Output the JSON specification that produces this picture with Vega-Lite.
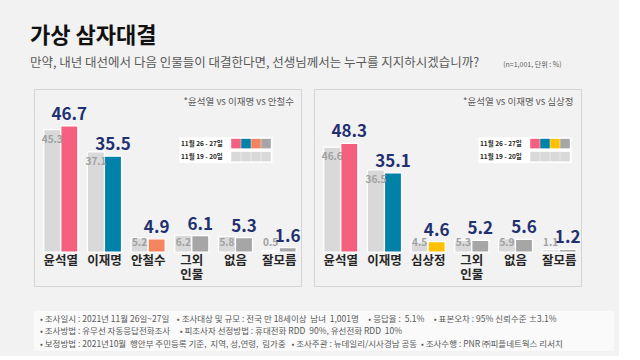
{
  "$schema": "https://vega.github.io/schema/vega-lite/v6.json",
  "background": "#f2f2f2",
  "padding": {"left": 27, "top": 25, "right": 5, "bottom": 5},
  "title": {
    "text": "가상 삼자대결",
    "subtitle": "만약, 내년 대선에서 다음 인물들이 대결한다면, 선생님께서는 누구를 지지하시겠습니까?",
    "anchor": "start",
    "dx": 3,
    "offset": -10,
    "fontSize": 22,
    "fontWeight": "bold",
    "color": "#111111",
    "subtitleFontSize": 12.5,
    "subtitleColor": "#595959",
    "subtitlePadding": 9,
    "font": "Noto Sans CJK KR",
    "subtitleFont": "Noto Sans CJK KR"
  },
  "datasets": {
    "bars": [
      {"panel": "A", "cand": "윤석열", "period": "11월 19 - 20일", "value": 45.3},
      {"panel": "A", "cand": "윤석열", "period": "11월 26 - 27일", "value": 46.7},
      {"panel": "A", "cand": "이재명", "period": "11월 19 - 20일", "value": 37.1},
      {"panel": "A", "cand": "이재명", "period": "11월 26 - 27일", "value": 35.5},
      {"panel": "A", "cand": "안철수", "period": "11월 19 - 20일", "value": 5.2},
      {"panel": "A", "cand": "안철수", "period": "11월 26 - 27일", "value": 4.9},
      {"panel": "A", "cand": "그외\n인물", "period": "11월 19 - 20일", "value": 6.2},
      {"panel": "A", "cand": "그외\n인물", "period": "11월 26 - 27일", "value": 6.1},
      {"panel": "A", "cand": "없음", "period": "11월 19 - 20일", "value": 5.8},
      {"panel": "A", "cand": "없음", "period": "11월 26 - 27일", "value": 5.3},
      {"panel": "A", "cand": "잘모름", "period": "11월 19 - 20일", "value": 0.5},
      {"panel": "A", "cand": "잘모름", "period": "11월 26 - 27일", "value": 1.6},
      {"panel": "B", "cand": "윤석열", "period": "11월 19 - 20일", "value": 46.6},
      {"panel": "B", "cand": "윤석열", "period": "11월 26 - 27일", "value": 48.3},
      {"panel": "B", "cand": "이재명", "period": "11월 19 - 20일", "value": 36.5},
      {"panel": "B", "cand": "이재명", "period": "11월 26 - 27일", "value": 35.1},
      {"panel": "B", "cand": "심상정", "period": "11월 19 - 20일", "value": 4.5},
      {"panel": "B", "cand": "심상정", "period": "11월 26 - 27일", "value": 4.6},
      {"panel": "B", "cand": "그외\n인물", "period": "11월 19 - 20일", "value": 5.3},
      {"panel": "B", "cand": "그외\n인물", "period": "11월 26 - 27일", "value": 5.2},
      {"panel": "B", "cand": "없음", "period": "11월 19 - 20일", "value": 5.9},
      {"panel": "B", "cand": "없음", "period": "11월 26 - 27일", "value": 5.6},
      {"panel": "B", "cand": "잘모름", "period": "11월 19 - 20일", "value": 1.1},
      {"panel": "B", "cand": "잘모름", "period": "11월 26 - 27일", "value": 1.2}
    ],
    "notes": [
      {"line": 1, "text": "• 조사일시 : 2021년 11월 26일~27일\u00a0\u00a0\u00a0\u00a0• 조사대상 및 규모 : 전국 만 18세이상\u00a0\u00a0남녀\u00a0\u00a01,001명\u00a0\u00a0\u00a0\u00a0\u00a0• 응답율 :\u00a0\u00a05.1%\u00a0\u00a0\u00a0\u00a0\u00a0• 표본오차 : 95% 신뢰수준 ±3.1%"},
      {"line": 2, "text": "• 조사방법 : 유무선 자동응답전화조사\u00a0\u00a0\u00a0\u00a0\u00a0• 피조사자 선정방법 : 휴대전화 RDD\u00a0\u00a090%, 유선전화 RDD\u00a0\u00a010%"},
      {"line": 3, "text": "• 보정방법 : 2021년10월\u00a0\u00a0행안부 주민등록 기준,\u00a0\u00a0지역, 성,연령,\u00a0\u00a0림가중\u00a0\u00a0\u00a0• 조사주관 : 뉴데일리/시사경남 공동\u00a0\u00a0• 조사수행 : PNR ㈜피플네트웍스 리서치"}
    ]
  },
  "config": {
    "font": "Noto Sans CJK KR",
    "view": {"stroke": "#d4d4d4"},
    "axisY": {"labels": false, "domain": false, "ticks": true, "tickSize": 6, "tickColor": "#f2f2f2", "grid": false, "title": null, "tickCount": 2}
  },
  "spacing": 24,
  "resolve": {"scale": {"color": "independent", "x": "independent", "y": "independent"}, "legend": {"color": "independent"}},
  "vconcat": [
    {
      "title": {"text": "(n=1,001, 단위 : %)", "anchor": "end", "dx": -20, "offset": 21, "fontSize": 7, "fontWeight": "normal", "color": "#595959"},
      "spacing": 5,
      "resolve": {"scale": {"color": "independent", "x": "independent", "y": "independent", "xOffset": "independent"}, "legend": {"color": "independent"}},
      "hconcat": [
        {
          "width": 267,
          "height": 197,
          "title": {"text": "*윤석열 vs 이재명 vs 안철수", "anchor": "end", "dx": -7, "offset": -17, "fontSize": 9.5, "fontWeight": "normal", "color": "#595959"},
          "data": {"name": "bars"},
          "transform": [{"filter": "datum.panel == 'A'"}],
          "encoding": {
            "x": {"field": "cand", "type": "nominal", "scale": {"domain": ["윤석열", "이재명", "안철수", "그외\n인물", "없음", "잘모름"], "paddingInner": 0.22, "paddingOuter": 0.167, "align": 0.67}, "axis": null},
            "y": {"field": "value", "type": "quantitative", "scale": {"domain": [-12.59, 60.37], "nice": false}}
          },
          "resolve": {"scale": {"color": "independent"}, "legend": {"color": "independent"}},
          "layer": [
            {
              "transform": [{"filter": "datum.period == '11월 19 - 20일'"}],
              "mark": {"type": "bar", "stroke": "white", "strokeWidth": 1.2},
              "encoding": {
                "xOffset": {"field": "period", "type": "nominal", "scale": {"domain": ["11월 19 - 20일", "11월 26 - 27일"], "paddingInner": 0, "paddingOuter": 0}},
                "color": {"field": "cand", "type": "nominal",
                  "scale": {"domain": ["윤석열", "이재명", "안철수", "그외\n인물", "없음", "잘모름"], "range": ["#d9d9d9", "#d9d9d9", "#d9d9d9", "#d9d9d9", "#d9d9d9", "#d9d9d9"]},
                  "legend": {"orient": "none", "legendX": 145.5, "legendY": 61, "direction": "horizontal", "columns": 4, "values": ["윤석열", "이재명", "안철수", "그외\n인물"],
                    "title": "11월 19 - 20일", "titleOrient": "left", "titleFontSize": 6.5, "titleFontWeight": "bold", "titleColor": "#262626", "titlePadding": 8,
                    "symbolType": "square", "symbolSize": 92, "symbolStrokeWidth": 0, "symbolOpacity": 1, "labelExpr": "''", "labelOffset": 0, "labelFontSize": 6,
                    "columnPadding": 0, "rowPadding": 0, "fillColor": "white", "padding": 1.5}}
              }
            },
            {
              "transform": [{"filter": "datum.period == '11월 26 - 27일'"}],
              "mark": {"type": "bar", "stroke": "white", "strokeWidth": 1.2},
              "encoding": {
                "xOffset": {"field": "period", "type": "nominal", "scale": {"domain": ["11월 19 - 20일", "11월 26 - 27일"], "paddingInner": 0, "paddingOuter": 0}},
                "color": {"field": "cand", "type": "nominal",
                  "scale": {"domain": ["윤석열", "이재명", "안철수", "그외\n인물", "없음", "잘모름"], "range": ["#f5607f", "#0081a7", "#f5855f", "#a6a6a6", "#a6a6a6", "#a6a6a6"]},
                  "legend": {"orient": "none", "legendX": 145.5, "legendY": 48, "direction": "horizontal", "columns": 4, "values": ["윤석열", "이재명", "안철수", "그외\n인물"],
                    "title": "11월 26 - 27일", "titleOrient": "left", "titleFontSize": 6.5, "titleFontWeight": "bold", "titleColor": "#262626", "titlePadding": 8,
                    "symbolType": "square", "symbolSize": 92, "symbolStrokeWidth": 0, "symbolOpacity": 1, "labelExpr": "''", "labelOffset": 0, "labelFontSize": 6,
                    "columnPadding": 0, "rowPadding": 0, "fillColor": "white", "padding": 1.5}}
              }
            },
            {
              "transform": [{"filter": "datum.period == '11월 26 - 27일'"}],
              "mark": {"type": "text", "baseline": "bottom", "dy": -2, "fontSize": 17, "fontWeight": "bold", "color": "#1f3170"},
              "encoding": {
                "xOffset": {"field": "period", "type": "nominal", "scale": {"domain": ["11월 19 - 20일", "11월 26 - 27일"], "paddingInner": 0, "paddingOuter": 0}},
                "text": {"field": "value", "type": "quantitative", "format": ".1f"}
              }
            },
            {
              "transform": [{"filter": "datum.period == '11월 19 - 20일' && datum.value >= 10"}],
              "mark": {"type": "text", "baseline": "middle", "dy": 10, "fontSize": 10, "fontWeight": "bold", "color": "#a0a0a0"},
              "encoding": {
                "xOffset": {"field": "period", "type": "nominal", "scale": {"domain": ["11월 19 - 20일", "11월 26 - 27일"], "paddingInner": 0, "paddingOuter": 0}},
                "text": {"field": "value", "type": "quantitative", "format": ".1f"}
              }
            },
            {
              "transform": [{"filter": "datum.period == '11월 19 - 20일' && datum.value < 10"}],
              "mark": {"type": "text", "baseline": "middle", "dy": -9, "fontSize": 10, "fontWeight": "bold", "color": "#a0a0a0"},
              "encoding": {
                "xOffset": {"field": "period", "type": "nominal", "scale": {"domain": ["11월 19 - 20일", "11월 26 - 27일"], "paddingInner": 0, "paddingOuter": 0}},
                "y": {"datum": 0, "type": "quantitative"},
                "text": {"field": "value", "type": "quantitative", "format": ".1f"}
              }
            },
            {
              "transform": [{"filter": "datum.period == '11월 26 - 27일'"}],
              "mark": {"type": "text", "baseline": "top", "dy": 3, "fontSize": 12.5, "fontWeight": "bold", "color": "#262626", "lineBreak": "\n", "lineHeight": 13.5},
              "encoding": {
                "y": {"datum": 0, "type": "quantitative"},
                "text": {"field": "cand"}
              }
            }
          ]
        },
        {
          "width": 267,
          "height": 197,
          "title": {"text": "*윤석열 vs 이재명 vs 심상정", "anchor": "end", "dx": -7.5, "offset": -17, "fontSize": 9.5, "fontWeight": "normal", "color": "#595959"},
          "data": {"name": "bars"},
          "transform": [{"filter": "datum.panel == 'B'"}],
          "encoding": {
            "x": {"field": "cand", "type": "nominal", "scale": {"domain": ["윤석열", "이재명", "심상정", "그외\n인물", "없음", "잘모름"], "paddingInner": 0.22, "paddingOuter": 0.167, "align": 0.67}, "axis": null},
            "y": {"field": "value", "type": "quantitative", "scale": {"domain": [-15.11, 72.44], "nice": false}}
          },
          "resolve": {"scale": {"color": "independent"}, "legend": {"color": "independent"}},
          "layer": [
            {
              "transform": [{"filter": "datum.period == '11월 19 - 20일'"}],
              "mark": {"type": "bar", "stroke": "white", "strokeWidth": 1.2},
              "encoding": {
                "xOffset": {"field": "period", "type": "nominal", "scale": {"domain": ["11월 19 - 20일", "11월 26 - 27일"], "paddingInner": 0, "paddingOuter": 0}},
                "color": {"field": "cand", "type": "nominal",
                  "scale": {"domain": ["윤석열", "이재명", "심상정", "그외\n인물", "없음", "잘모름"], "range": ["#d9d9d9", "#d9d9d9", "#d9d9d9", "#d9d9d9", "#d9d9d9", "#d9d9d9"]},
                  "legend": {"orient": "none", "legendX": 164.5, "legendY": 61, "direction": "horizontal", "columns": 4, "values": ["윤석열", "이재명", "심상정", "그외\n인물"],
                    "title": "11월 19 - 20일", "titleOrient": "left", "titleFontSize": 6.5, "titleFontWeight": "bold", "titleColor": "#262626", "titlePadding": 8,
                    "symbolType": "square", "symbolSize": 92, "symbolStrokeWidth": 0, "symbolOpacity": 1, "labelExpr": "''", "labelOffset": 0, "labelFontSize": 6,
                    "columnPadding": 0, "rowPadding": 0, "fillColor": "white", "padding": 1.5}}
              }
            },
            {
              "transform": [{"filter": "datum.period == '11월 26 - 27일'"}],
              "mark": {"type": "bar", "stroke": "white", "strokeWidth": 1.2},
              "encoding": {
                "xOffset": {"field": "period", "type": "nominal", "scale": {"domain": ["11월 19 - 20일", "11월 26 - 27일"], "paddingInner": 0, "paddingOuter": 0}},
                "color": {"field": "cand", "type": "nominal",
                  "scale": {"domain": ["윤석열", "이재명", "심상정", "그외\n인물", "없음", "잘모름"], "range": ["#f5607f", "#0081a7", "#ffc000", "#a6a6a6", "#a6a6a6", "#a6a6a6"]},
                  "legend": {"orient": "none", "legendX": 164.5, "legendY": 48, "direction": "horizontal", "columns": 4, "values": ["윤석열", "이재명", "심상정", "그외\n인물"],
                    "title": "11월 26 - 27일", "titleOrient": "left", "titleFontSize": 6.5, "titleFontWeight": "bold", "titleColor": "#262626", "titlePadding": 8,
                    "symbolType": "square", "symbolSize": 92, "symbolStrokeWidth": 0, "symbolOpacity": 1, "labelExpr": "''", "labelOffset": 0, "labelFontSize": 6,
                    "columnPadding": 0, "rowPadding": 0, "fillColor": "white", "padding": 1.5}}
              }
            },
            {
              "transform": [{"filter": "datum.period == '11월 26 - 27일'"}],
              "mark": {"type": "text", "baseline": "bottom", "dy": -2, "fontSize": 17, "fontWeight": "bold", "color": "#1f3170"},
              "encoding": {
                "xOffset": {"field": "period", "type": "nominal", "scale": {"domain": ["11월 19 - 20일", "11월 26 - 27일"], "paddingInner": 0, "paddingOuter": 0}},
                "text": {"field": "value", "type": "quantitative", "format": ".1f"}
              }
            },
            {
              "transform": [{"filter": "datum.period == '11월 19 - 20일' && datum.value >= 10"}],
              "mark": {"type": "text", "baseline": "middle", "dy": 10, "fontSize": 10, "fontWeight": "bold", "color": "#a0a0a0"},
              "encoding": {
                "xOffset": {"field": "period", "type": "nominal", "scale": {"domain": ["11월 19 - 20일", "11월 26 - 27일"], "paddingInner": 0, "paddingOuter": 0}},
                "text": {"field": "value", "type": "quantitative", "format": ".1f"}
              }
            },
            {
              "transform": [{"filter": "datum.period == '11월 19 - 20일' && datum.value < 10"}],
              "mark": {"type": "text", "baseline": "middle", "dy": -9, "fontSize": 10, "fontWeight": "bold", "color": "#a0a0a0"},
              "encoding": {
                "xOffset": {"field": "period", "type": "nominal", "scale": {"domain": ["11월 19 - 20일", "11월 26 - 27일"], "paddingInner": 0, "paddingOuter": 0}},
                "y": {"datum": 0, "type": "quantitative"},
                "text": {"field": "value", "type": "quantitative", "format": ".1f"}
              }
            },
            {
              "transform": [{"filter": "datum.period == '11월 26 - 27일'"}],
              "mark": {"type": "text", "baseline": "top", "dy": 3, "fontSize": 12.5, "fontWeight": "bold", "color": "#262626", "lineBreak": "\n", "lineHeight": 13.5},
              "encoding": {
                "y": {"datum": 0, "type": "quantitative"},
                "text": {"field": "cand"}
              }
            }
          ]
        }
      ]
    },
    {
      "width": 580,
      "height": 40,
      "view": {"stroke": null, "fill": "#fafafa"},
      "data": {"name": "notes"},
      "mark": {"type": "text", "align": "left", "baseline": "middle", "fontSize": 8.5, "color": "#595959", "dx": 6},
      "encoding": {
        "x": {"datum": 0, "type": "quantitative", "scale": {"domain": [0, 1]}, "axis": null},
        "y": {"field": "line", "type": "ordinal", "scale": {"type": "point", "padding": 0.6}, "axis": null},
        "text": {"field": "text"}
      }
    }
  ]
}
